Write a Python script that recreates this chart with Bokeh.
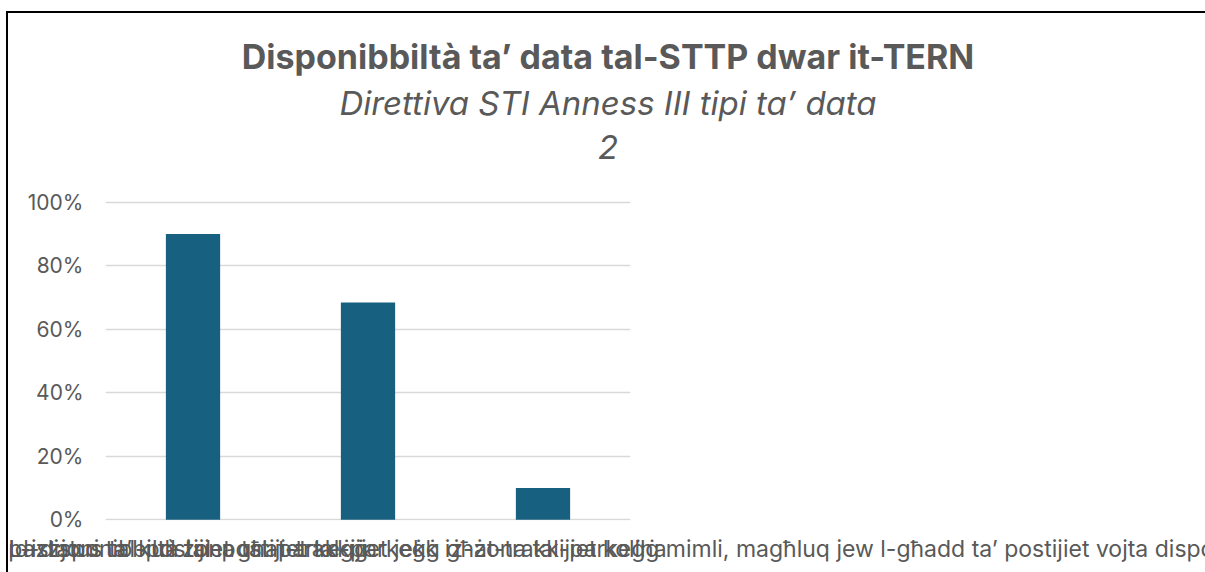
from bokeh.plotting import figure
from bokeh.layouts import column
from bokeh.models import ColumnDataSource, FactorRange, Range1d, NumeralTickFormatter, FixedTicker, Div
from bokeh.embed import file_html
from bokeh.resources import INLINE

# ---- data ----
categories = [
    "Id-disponibbiltà tal-postijiet tal-parkeġġ għat-trakkijiet kollha",
    "L-istatus tal-okkupazzjoni ta’ kull żona tal-parkeġġ",
    "L-istatus tal-postijiet għat-trakkijiet jekk iż-żona tal-parkeġġ mimli, magħluq jew l-għadd ta’ postijiet vojta disponibbli",
]
values = [0.90, 0.684, 0.10]
y_ticks = [0, 0.2, 0.4, 0.6, 0.8, 1.0]

title_text = "Disponibbiltà ta’ data tal-STTP dwar it-TERN"
subtitle_text = "Direttiva STI Anness III tipi ta’ data"
subtitle2_text = "2"

FONT = "Inter"
GREY = "#595959"
BAR = "#17607F"
W = 1197
H_TITLE = 170
H_CHART = 399

# ---- title block ----
line = ("<div style='width:{w}px;height:{h}px;line-height:{h}px;text-align:center;"
        "font-family:Inter;font-size:{fs}px;font-weight:{fw};font-style:{st};color:{c};"
        "white-space:nowrap'>{t}</div>")
html = ("<div style='padding-top:21px'>"
        + line.format(w=W + 3, h=46, fs=34, fw=700, st="normal", c=GREY, t=title_text)
        + line.format(w=W + 3, h=46, fs=33, fw=400, st="italic", c=GREY, t=subtitle_text)
        + line.format(w=W + 3, h=42, fs=33, fw=400, st="italic", c=GREY, t=subtitle2_text)
        + "</div>")
titles = Div(text=html, width=W, height=H_TITLE, margin=0)

# ---- chart ----
source = ColumnDataSource(dict(cat=categories, val=values))
p = figure(
    x_range=FactorRange(*categories, range_padding=0),
    y_range=Range1d(-0.0022, 1.0054),
    width=W, height=H_CHART, margin=0,
    output_backend="svg", toolbar_location=None,
    min_border_left=97, min_border_right=575, min_border_top=17, min_border_bottom=62,
)
p.outline_line_color = None

p.vbar(x="cat", top="val", width=0.31, source=source, fill_color=BAR, line_color=None)

p.yaxis.ticker = FixedTicker(ticks=y_ticks)
p.yaxis.formatter = NumeralTickFormatter(format="0%")
for ax in (p.xaxis[0], p.yaxis[0]):
    ax.axis_line_color = None
    ax.major_tick_line_color = None
    ax.minor_tick_line_color = None
    ax.major_label_text_font = FONT
    ax.major_label_text_color = GREY
p.yaxis.major_label_text_font_size = "21px"
p.xaxis.major_label_text_font_size = "23px"
p.yaxis.major_label_standoff = 16
p.xaxis.major_label_standoff = 22
p.xaxis.major_label_orientation = 0

p.xgrid.grid_line_color = None
p.ygrid.ticker = FixedTicker(ticks=y_ticks)
p.ygrid.grid_line_color = "#D9D9D9"
p.ygrid.grid_line_width = 1.5

layout = column(titles, p, spacing=0,
                styles={"margin-left": "6px", "margin-top": "11px",
                        "border-left": "2px solid #000", "border-top": "2px solid #000"})

open("out.html", "w").write(file_html(layout, INLINE))
